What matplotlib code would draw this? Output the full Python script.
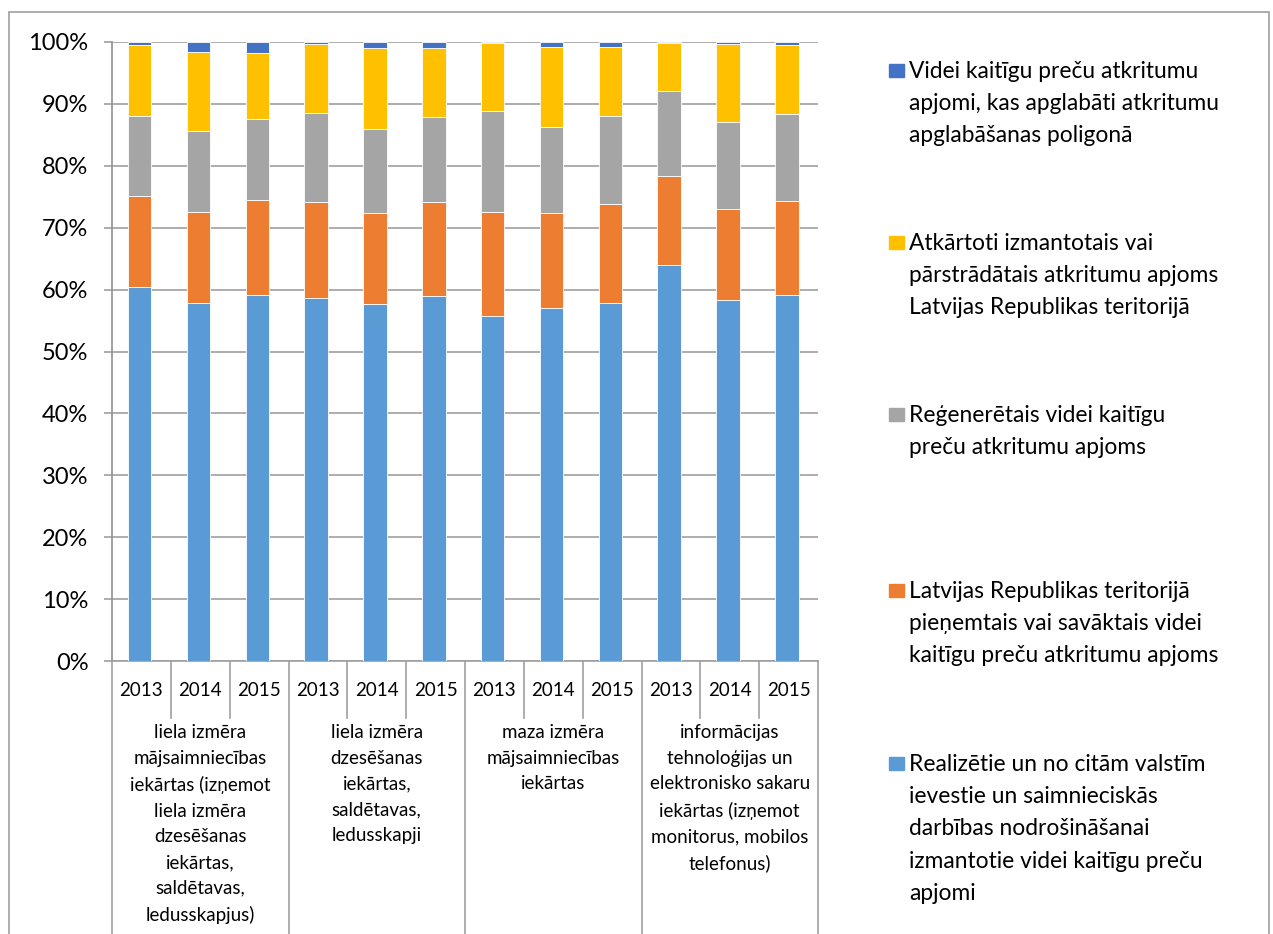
import matplotlib.pyplot as plt
import matplotlib.patches as patches
import numpy as np

plt.rcParams['font.family'] = ['Lato', 'DejaVu Sans']

years = ["2013", "2014", "2015"]
groups = [
    "liela izmēra\nmājsaimniecības\niekārtas (izņemot\nliela izmēra\ndzesēšanas\niekārtas,\nsaldētavas,\nledusskapjus)",
    "liela izmēra\ndzesēšanas\niekārtas,\nsaldētavas,\nledusskapji",
    "maza izmēra\nmājsaimniecības\niekārtas",
    "informācijas\ntehnoloģijas un\nelektronisko sakaru\niekārtas (izņemot\nmonitorus, mobilos\ntelefonus)",
]

# shares in %, 12 bars (4 groups x 3 years)
realized = [60.5, 57.9, 59.2, 58.6, 57.6, 58.9, 55.7, 57.0, 57.8, 63.9, 58.4, 59.2]
collected = [14.7, 14.7, 15.2, 15.6, 14.7, 15.2, 16.9, 15.4, 16.1, 14.5, 14.7, 15.1]
regenerated = [12.9, 13.0, 13.2, 14.4, 13.7, 13.8, 16.3, 13.9, 14.1, 13.7, 13.9, 14.0]
recycled = [11.4, 12.8, 10.7, 11.1, 13.1, 11.2, 10.9, 12.9, 11.2, 7.8, 12.6, 11.2]
landfilled = [0.5, 1.6, 1.7, 0.3, 0.9, 0.9, 0.2, 0.8, 0.8, 0.1, 0.4, 0.5]

series = [realized, collected, regenerated, recycled, landfilled]
labels = [
    "Realizētie un no citām valstīm\nievestie un saimnieciskās\ndarbības nodrošināšanai\nizmantotie videi kaitīgu preču\napjomi",
    "Latvijas Republikas teritorijā\npieņemtais vai savāktais videi\nkaitīgu preču atkritumu apjoms",
    "Reģenerētais videi kaitīgu\npreču atkritumu apjoms",
    "Atkārtoti izmantotais vai\npārstrādātais atkritumu apjoms\nLatvijas Republikas teritorijā",
    "Videi kaitīgu preču atkritumu\napjomi, kas apglabāti atkritumu\napglabāšanas poligonā",
]
colors = ["#5B9BD5", "#ED7D31", "#A5A5A5", "#FFC000", "#4472C4"]

W, H = 1273, 934
fig = plt.figure(figsize=(W / 100, H / 100), dpi=100)
ax = fig.add_axes([112 / W, (H - 661) / H, (818 - 112) / W, 619 / H])

n = len(realized)
x = np.arange(n)
bottom = np.zeros(n)
for vals, c in zip(series, colors):
    ax.bar(x - 0.03, vals, bottom=bottom, width=0.4, color=c, edgecolor="white", linewidth=0.6, zorder=3)
    bottom += np.array(vals)

ax.set_xlim(-0.5, n - 0.5)
ax.set_ylim(0, 100)
ax.set_yticks(np.arange(0, 101, 10))
ax.set_yticklabels([f"{v}%" for v in range(0, 101, 10)], fontsize=17)
ax.yaxis.grid(True, color="#a0a0a0", linewidth=1.2, zorder=0)
ax.tick_params(axis="y", length=6, color="#a0a0a0", width=1.2, pad=11)
ax.tick_params(axis="x", length=0)
ax.set_xticks([])
for s in ["top", "right"]:
    ax.spines[s].set_visible(False)
ax.spines["left"].set_color("#909090")
ax.spines["left"].set_linewidth(1.2)
ax.spines["bottom"].set_color("#a0a0a0")
ax.spines["bottom"].set_linewidth(1.2)

# category axis: years + groups
tr = ax.get_xaxis_transform()
year_bot = -(718 - 661) / 619
grp_bot = -(934 - 661) / 619
for i in range(n + 1):
    xp = i - 0.5
    yb = grp_bot if i % 3 == 0 else year_bot
    ax.plot([xp, xp], [0, yb], transform=tr, color="#a0a0a0", lw=1.2, clip_on=False)
for i in range(n):
    ax.text(i, -(690 - 661) / 619, years[i % 3], transform=tr, ha="center", va="center", fontsize=13.5)
for g, lab in enumerate(groups):
    ax.text(3 * g + 1, -(724 - 661) / 619, lab, transform=tr, ha="center", va="top",
            fontsize=13.5, linespacing=1.62)

# legend
leg_y = [70, 242, 414, 590, 763]
for lab, c, yy in zip(labels[::-1], colors[::-1], leg_y):
    fig.patches.append(patches.Rectangle((889 / W, 1 - (yy + 7) / H), 15 / W, 13 / H,
                                         transform=fig.transFigure, color=c))
    fig.text(909 / W, 1 - (yy - 9) / H, lab, ha="left", va="top", fontsize=16.4, linespacing=1.66)

# outer border
fig.patches.append(patches.Rectangle((9 / W, -0.01), (1269 - 9) / W, 1.01 - 12 / H,
                                     transform=fig.transFigure, fill=False,
                                     edgecolor="#a0a0a0", lw=1.2))

fig.savefig("out.png", dpi=100)
